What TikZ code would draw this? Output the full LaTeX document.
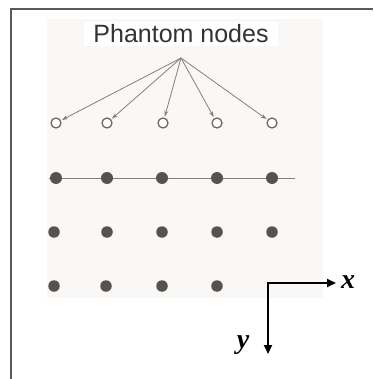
\documentclass[tikz,border=0pt]{standalone}
\usepackage{fontspec}
\setmainfont{Liberation Serif}
\newfontfamily\labelfont{Liberation Sans}
\usetikzlibrary{arrows.meta}
\definecolor{panel}{HTML}{F9F8F7}
\definecolor{dotfill}{HTML}{57524D}
\definecolor{ringcol}{HTML}{6E6964}
\definecolor{linkcol}{HTML}{8A7D74}
\definecolor{framecol}{HTML}{5A5A5A}
\tikzset{
  ring/.style={circle, draw=ringcol, line width=1.3pt, fill=white, minimum size=10pt, inner sep=0pt},
  dot/.style={circle, fill=dotfill, minimum size=12pt, inner sep=0pt},
  pointer/.style={draw=linkcol, line width=0.8pt, shorten >=1pt, -{Stealth[length=6pt,width=4pt]}},
  axis/.style={draw=black, line width=2pt, -{Triangle[length=9pt,width=8pt]}},
  axlabel/.style={font=\fontsize{28}{28}\selectfont\bfseries\itshape}
}
\begin{document}
\begin{tikzpicture}[x=1pt,y=-1pt]
\useasboundingbox (0,0) rectangle (373,379);
% outer frame edges
\draw[framecol, line width=1.5pt] (11,379) -- (11,9) -- (373,9);
% shaded panel
\fill[panel] (47,19) rectangle (323,298);
% title
\node[fill=white, inner xsep=9pt, inner ysep=3pt, font=\labelfont\fontsize{25}{25}\selectfont, text=black!80] (title) at (181,34) {Phantom nodes};
\coordinate (apex) at (181,58);
% phantom nodes
\foreach \i/\x in {1/56,2/107,3/163,4/217,5/272}
  \node[ring] (p\i) at (\x,123) {};
\foreach \i in {1,...,5}
  \draw[pointer] (apex) -- (p\i);
% first row of nodes joined by a line
\coordinate (rowend) at (295,178);
\coordinate (rowstart) at (49,178);
\draw[linkcol, line width=1pt] (rowstart) -- (rowend);
\foreach \i/\x in {1/56,2/107,3/162,4/217,5/272}
  \node[dot] (a\i) at (\x,178) {};
% second row
\foreach \i/\x in {1/54,2/107,3/162,4/217,5/272}
  \node[dot, minimum size=11.5pt] (b\i) at (\x,232) {};
% third row
\foreach \i/\x in {1/54,2/106,3/162,4/217}
  \node[dot, minimum size=11.5pt] (c\i) at (\x,286) {};
% axes
\coordinate (origin) at (268,283);
\coordinate (xend) at (336,283);
\coordinate (yend) at (268,354);
\draw[axis] ([xshift=-1pt]origin) -- (xend);
\draw[axis] (origin) -- (yend);
\node[axlabel] (xl) at (348,282) {x};
\node[axlabel] (yl) at (243,345) {y};
\end{tikzpicture}
\end{document}
